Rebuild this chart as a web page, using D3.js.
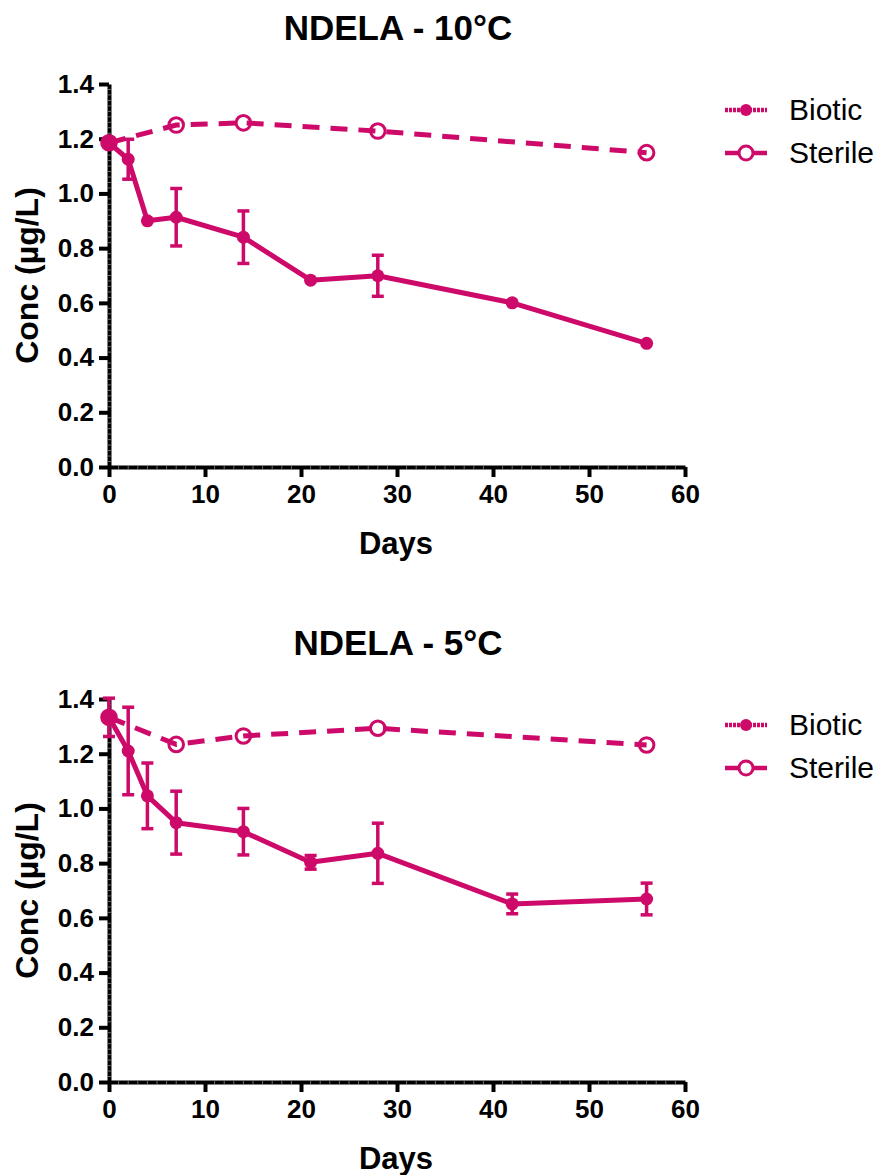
<!DOCTYPE html>
<html>
<head>
<meta charset="utf-8">
<script src="https://cdn.jsdelivr.net/npm/d3@7"></script>
<style>
  body { margin: 0; background: #fff; }
  text { font-family: "Liberation Sans", Arial, sans-serif; }
</style>
</head>
<body>
<div id="chart"></div>
<script>
// values
var days = [0, 2, 4, 7, 14, 21, 28, 42, 56];
var sterileDays = [0, 7, 14, 28, 56];

var biotic10 = [1.185, 1.125, 0.900, 0.913, 0.840, 0.683, 0.699, 0.600, 0.452];
var biotic10Err = [0, 0.073, 0, 0.105, 0.096, 0, 0.075, 0, 0];
var sterile10 = [1.185, 1.250, 1.258, 1.228, 1.149];

var biotic5 = [1.333, 1.210, 1.046, 0.948, 0.915, 0.803, 0.836, 0.651, 0.669];
var biotic5Err = [0.070, 0.160, 0.120, 0.115, 0.085, 0.025, 0.110, 0.036, 0.058];
var sterile5 = [1.333, 1.234, 1.265, 1.293, 1.232];

var xTicks = [0, 10, 20, 30, 40, 50, 60];
var yTicks = [0, 0.2, 0.4, 0.6, 0.8, 1.0, 1.2, 1.4];
var legendNames = ["Biotic", "Sterile"];

var svgWidth = 882;
var svgHeight = 1175;
var color = "#cd0a69";

var svg = d3.select("#chart")
    .append("svg")
    .attr("width", svgWidth)
    .attr("height", svgHeight);

var x = d3.scaleLinear().domain([0, 60]).range([109, 685]);
var y = d3.scaleLinear().domain([0, 1.4]).range([467, 84]);

function drawPanel(top, title, biotic, bioticErr, sterile) {
    var g = svg.append("g").attr("transform", `translate(0, ${top})`);

    g.append("text")
        .attr("x", 398)
        .attr("y", 40)
        .attr("text-anchor", "middle")
        .attr("font-size", "35px")
        .attr("font-weight", "bold")
        .text(title);

    var xAxis = d3.axisBottom(x).tickValues(xTicks).tickSize(10).tickSizeOuter(0).tickPadding(8);
    var yAxis = d3.axisLeft(y).tickValues(yTicks).tickSize(10).tickSizeOuter(0).tickPadding(5)
        .tickFormat(d3.format(".1f"));

    var xg = g.append("g")
        .attr("transform", `translate(0, ${y(0)})`)
        .call(xAxis);
    var yg = g.append("g")
        .attr("transform", `translate(${x(0)}, 0)`)
        .call(yAxis);

    [xg, yg].forEach(a => {
        a.select(".domain").attr("stroke", "#000").attr("stroke-width", 4);
        a.selectAll(".tick line").attr("stroke", "#000").attr("stroke-width", 4);
        a.selectAll(".tick text")
            .attr("fill", "#000")
            .attr("font-size", "26px")
            .attr("font-weight", "bold")
            .attr("font-family", "Liberation Sans, Arial, sans-serif");
    });

    // light stripes across the thick axis lines (minor ticks)
    g.append("g").selectAll("line")
        .data(d3.range(1, 60, 1).filter(d => d % 10 != 0))
        .enter().append("line")
        .attr("x1", d => x(d)).attr("x2", d => x(d))
        .attr("y1", y(0) - 2).attr("y2", y(0) + 2)
        .attr("stroke", "#888").attr("stroke-width", 0.8);
    g.append("g").selectAll("line")
        .data(d3.range(1, 70, 1).filter(d => d % 10 != 0))
        .enter().append("line")
        .attr("y1", d => y(d * 0.02)).attr("y2", d => y(d * 0.02))
        .attr("x1", x(0) - 2).attr("x2", x(0) + 2)
        .attr("stroke", "#888").attr("stroke-width", 0.8);

    g.append("text")
        .attr("x", 396)
        .attr("y", 554)
        .attr("text-anchor", "middle")
        .attr("font-size", "31px")
        .attr("font-weight", "bold")
        .text("Days");

    g.append("text")
        .attr("transform", `translate(38, ${(y(0) + y(1.4)) / 2}) rotate(-90)`)
        .attr("text-anchor", "middle")
        .attr("font-size", "32px")
        .attr("font-weight", "bold")
        .text("Conc (µg/L)");

    var bData = days.map((d, i) => ({ day: d, v: biotic[i], e: bioticErr[i] }));
    var sData = sterileDays.map((d, i) => ({ day: d, v: sterile[i] }));

    var line = d3.line().x(d => x(d.day)).y(d => y(d.v));

    // sterile: dashed line, open circles
    g.append("path")
        .datum(sData)
        .attr("d", line)
        .attr("fill", "none")
        .attr("stroke", color)
        .attr("stroke-width", 5)
        .attr("stroke-dasharray", "17,11");

    // biotic: solid line
    g.append("path")
        .datum(bData)
        .attr("d", line)
        .attr("fill", "none")
        .attr("stroke", color)
        .attr("stroke-width", 5)
        .attr("stroke-linejoin", "round");

    // error bars
    var err = g.append("g").selectAll("g")
        .data(bData.filter(d => d.e > 0))
        .enter().append("g")
        .attr("stroke", color)
        .attr("stroke-width", 3.5);
    err.append("line")
        .attr("x1", d => x(d.day)).attr("x2", d => x(d.day))
        .attr("y1", d => y(d.v + d.e)).attr("y2", d => y(d.v - d.e));
    err.append("line")
        .attr("x1", d => x(d.day) - 6).attr("x2", d => x(d.day) + 6)
        .attr("y1", d => y(d.v + d.e)).attr("y2", d => y(d.v + d.e));
    err.append("line")
        .attr("x1", d => x(d.day) - 6).attr("x2", d => x(d.day) + 6)
        .attr("y1", d => y(d.v - d.e)).attr("y2", d => y(d.v - d.e));

    g.append("g").selectAll("circle")
        .data(sData)
        .enter().append("circle")
        .attr("cx", d => x(d.day))
        .attr("cy", d => y(d.v))
        .attr("r", 7.3)
        .attr("fill", "none")
        .attr("stroke", color)
        .attr("stroke-width", 3);

    g.append("g").selectAll("circle")
        .data(bData)
        .enter().append("circle")
        .attr("cx", d => x(d.day))
        .attr("cy", d => y(d.v))
        .attr("r", 6.5)
        .attr("fill", color);

    // legend
    var legend = g.append("g").selectAll("g")
        .data(legendNames)
        .enter().append("g")
        .attr("transform", (d, i) => `translate(0, ${110 + i * 43})`);

    legend.append("line")
        .attr("x1", 725).attr("x2", 767)
        .attr("stroke", color)
        .attr("stroke-width", 4.5)
        .attr("stroke-dasharray", (d, i) => i == 0 ? "3,1" : null);

    legend.append("circle")
        .attr("cx", 746)
        .attr("r", (d, i) => i == 0 ? 6 : 7)
        .attr("fill", (d, i) => i == 0 ? color : "#fff")
        .attr("stroke", color)
        .attr("stroke-width", (d, i) => i == 0 ? 0 : 3);

    legend.append("text")
        .attr("x", 789)
        .attr("y", 10)
        .attr("font-size", "30px")
        .text(d => d);
}

drawPanel(0, "NDELA - 10°C", biotic10, biotic10Err, sterile10);
drawPanel(615, "NDELA - 5°C", biotic5, biotic5Err, sterile5);
</script>
</body>
</html>
